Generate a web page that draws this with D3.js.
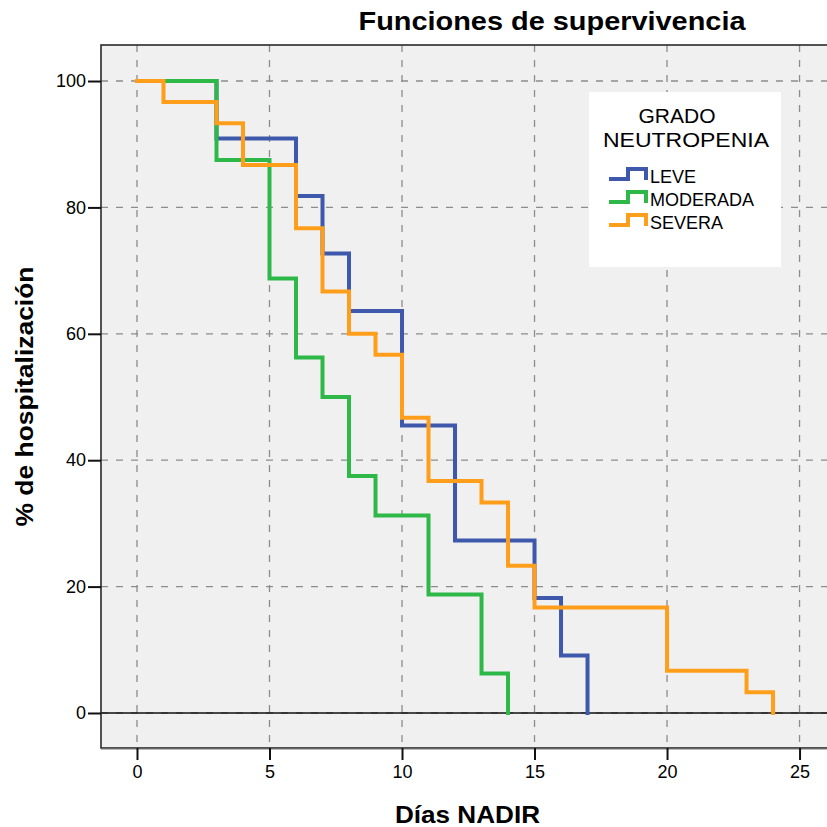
<!DOCTYPE html>
<html><head><meta charset="utf-8">
<script src="https://cdn.jsdelivr.net/npm/d3@7"></script>
<style>
body{margin:0;background:#fff}
svg{display:block}
text{font-family:"Liberation Sans",Arial,Helvetica,sans-serif;fill:#000}
</style>
</head><body>
<svg id="chart" width="827" height="827"></svg>
<script>
// Kaplan-Meier survival steps (% still hospitalised) by neutropenia grade
const groups = ["LEVE", "MODERADA", "SEVERA"];
const leveDays = [0, 3, 6, 7, 8, 10, 12, 15, 16, 17];
const leveSurv = [100, 90.9, 81.8, 72.7, 63.6, 45.5, 27.3, 18.2, 9.1, 0];
const moderadaDays = [0, 3, 5, 6, 7, 8, 9, 11, 13, 14];
const moderadaSurv = [100, 87.5, 68.75, 56.25, 50, 37.5, 31.25, 18.75, 6.25, 0];
const severaDays = [0, 1, 3, 4, 6, 7, 8, 9, 10, 11, 13, 14, 15, 20, 23, 24];
const severaSurv = [100, 96.7, 93.3, 86.7, 76.7, 66.7, 60, 56.7, 46.7, 36.7, 33.3, 23.3, 16.7, 6.7, 3.3, 0];
const xTicks = [0, 5, 10, 15, 20, 25];
const yTicks = [0, 20, 40, 60, 80, 100];
const colors = ["#3e58ac", "#2eb848", "#ff9e1b"];

const series = [
  {name: groups[0], days: leveDays, surv: leveSurv, color: colors[0]},
  {name: groups[1], days: moderadaDays, surv: moderadaSurv, color: colors[1]},
  {name: groups[2], days: severaDays, surv: severaSurv, color: colors[2]}
];

const svg = d3.select("#chart");

// plot frame extends a little past the data range on every side
const x = d3.scaleLinear().domain([-1.358, 26.3]).range([101, 834]);
const y = d3.scaleLinear().domain([-5.54, 105.7]).range([748, 45]);
const [x0, x1] = x.range();
const [yb, yt] = y.range();

svg.append("rect")
  .attr("x", x0).attr("y", yt)
  .attr("width", x1 - x0).attr("height", yb - yt)
  .attr("fill", "#f0f0f0");

// dashed reference grid
const grid = svg.append("g").attr("stroke", "#8c8c8c").attr("stroke-width", 1.3)
  .attr("stroke-dasharray", "7,8");
grid.selectAll("line.v").data(xTicks).join("line").attr("class", "v")
  .attr("x1", d => x(d)).attr("x2", d => x(d))
  .attr("y1", yt).attr("y2", yb);
grid.selectAll("line.h").data(yTicks).join("line").attr("class", "h")
  .attr("x1", x0).attr("x2", x1)
  .attr("y1", d => y(d)).attr("y2", d => y(d));

// baseline at 0 %
svg.append("line")
  .attr("x1", x0).attr("x2", x1)
  .attr("y1", y(0)).attr("y2", y(0))
  .attr("stroke", "#111").attr("stroke-width", 1.6);

// survival curves
const line = d3.line().curve(d3.curveStepAfter)
  .x(d => x(d[0])).y(d => y(d[1]));
svg.append("g").selectAll("path").data(series).join("path")
  .attr("d", s => line(d3.zip(s.days, s.surv)))
  .attr("fill", "none")
  .attr("stroke", s => s.color)
  .attr("stroke-width", 4)
  .attr("stroke-linejoin", "miter")
  .attr("stroke-linecap", "square");

// frame
svg.append("rect")
  .attr("x", x0).attr("y", yt)
  .attr("width", x1 - x0).attr("height", yb - yt)
  .attr("fill", "none").attr("stroke", "#2a2a2a").attr("stroke-width", 1.6);
svg.append("line")
  .attr("x1", x0).attr("x2", x1).attr("y1", yb + 1).attr("y2", yb + 1)
  .attr("stroke", "#777").attr("stroke-width", 1);

// axes
const xAxis = svg.append("g").attr("transform", `translate(0,${yb})`)
  .call(d3.axisBottom(x).tickValues(xTicks).tickSize(12).tickPadding(5));
const yAxis = svg.append("g").attr("transform", `translate(${x0},0)`)
  .call(d3.axisLeft(y).tickValues(yTicks).tickSize(13).tickPadding(2));
[xAxis, yAxis].forEach(g => {
  g.select(".domain").remove();
  g.selectAll(".tick line").attr("stroke", "#111").attr("stroke-width", 2);
  g.selectAll(".tick text").attr("font-size", 18)
    .attr("font-family", "'Liberation Sans', Arial, sans-serif").attr("fill", "#111");
});

// titles
svg.append("text")
  .attr("x", 552).attr("y", 30).attr("text-anchor", "middle")
  .attr("font-size", 25).attr("font-weight", "bold")
  .attr("textLength", 387).attr("lengthAdjust", "spacingAndGlyphs")
  .text("Funciones de supervivencia");
svg.append("text")
  .attr("x", (x0 + x1) / 2).attr("y", 823).attr("text-anchor", "middle")
  .attr("font-size", 24).attr("font-weight", "bold")
  .attr("textLength", 145).attr("lengthAdjust", "spacingAndGlyphs")
  .text("Días NADIR");
svg.append("text")
  .attr("transform", `translate(33,${(yt + yb) / 2}) rotate(-90)`)
  .attr("text-anchor", "middle")
  .attr("font-size", 24).attr("font-weight", "bold")
  .attr("textLength", 260).attr("lengthAdjust", "spacingAndGlyphs")
  .text("% de hospitalización");

// legend
const lg = svg.append("g").attr("transform", "translate(589,92)");
lg.append("rect").attr("width", 192).attr("height", 175).attr("fill", "#fff");
lg.append("text").attr("x", 88).attr("y", 31).attr("text-anchor", "middle")
  .attr("font-size", 21).text("GRADO");
lg.append("text").attr("x", 97).attr("y", 55).attr("text-anchor", "middle")
  .attr("font-size", 21).attr("textLength", 166).attr("lengthAdjust", "spacingAndGlyphs")
  .text("NEUTROPENIA");
const entry = lg.selectAll("g.entry").data(series).join("g").attr("class", "entry")
  .attr("transform", (d, i) => `translate(20,${91 + i * 23})`);
entry.append("path")
  .attr("d", () => {
    const p = d3.path();
    p.moveTo(0, -4); p.lineTo(19, -4); p.lineTo(19, -14);
    p.lineTo(37, -14); p.lineTo(37, -3);
    return p.toString();
  })
  .attr("fill", "none").attr("stroke", d => d.color).attr("stroke-width", 4);
entry.append("text").attr("x", 41).attr("y", 0)
  .attr("font-size", 18).text(d => d.name);
</script>
</body></html>
